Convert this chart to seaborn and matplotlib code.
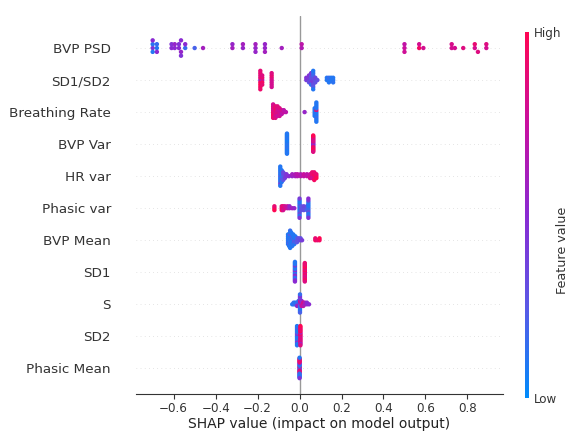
import numpy as np
import pandas as pd
import matplotlib
import matplotlib.pyplot as plt
import seaborn as sns
from matplotlib.colors import LinearSegmentedColormap, Normalize

# ==========================================
# data: shap values + feature value (0 = low, 1 = high) per feature
# ==========================================
features = ['BVP PSD', 'SD1/SD2', 'Breathing Rate', 'BVP Var', 'HR var',
            'Phasic var', 'BVP Mean', 'SD1', 'S', 'SD2', 'Phasic Mean']

bvp_psd_shap = [-0.70, -0.70, -0.70, -0.70, -0.68, -0.68, -0.68, -0.61, -0.61, -0.595, -0.595,
                -0.575, -0.575, -0.565, -0.565, -0.565, -0.545, -0.545, -0.50, -0.46, -0.32, -0.32,
                -0.27, -0.27, -0.21, -0.21, -0.21, -0.165, -0.165, -0.165, -0.085, 0.01, 0.01,
                0.50, 0.50, 0.50, 0.57, 0.57, 0.59, 0.725, 0.725, 0.74, 0.78, 0.835, 0.835, 0.85,
                0.89, 0.89]
bvp_psd_val = [0.45, 0.12, 0.1, 0.5, 0.1, 0.15, 0.5, 0.5, 0.45, 0.5, 0.55,
               0.5, 0.45, 0.55, 0.5, 0.45, 0.15, 0.5, 0.2, 0.6, 0.6, 0.55,
               0.55, 0.6, 0.55, 0.6, 0.55, 0.55, 0.55, 0.6, 0.6, 0.65, 0.7,
               0.75, 0.72, 0.78, 0.95, 0.8, 0.8, 0.8, 0.82, 0.8, 0.85, 0.8, 0.9, 0.85,
               0.8, 0.85]

sd1sd2_shap = [-0.187, -0.187, -0.187, -0.187, -0.187, -0.187, -0.187, -0.187, -0.187,
               -0.178, -0.178, -0.178, -0.178, -0.178,
               -0.133, -0.133, -0.133, -0.133, -0.133, -0.133, -0.133,
               0.032, 0.032, 0.045, 0.045, 0.045, 0.045,
               0.055, 0.055, 0.055, 0.055, 0.055, 0.055,
               0.065, 0.065, 0.065, 0.065, 0.065, 0.065, 0.065, 0.065, 0.065,
               0.075, 0.075, 0.075, 0.085,
               0.13, 0.13, 0.14, 0.14, 0.14, 0.15, 0.15, 0.16, 0.16, 0.16]
sd1sd2_val = [0.5, 0.9, 0.95, 0.85, 1.0, 0.9, 0.95, 0.88, 0.92,
              0.6, 0.9, 0.95, 0.85, 0.9,
              0.8, 0.85, 0.8, 0.9, 0.8, 0.85, 0.8,
              0.4, 0.45, 0.35, 0.4, 0.3, 0.45,
              0.35, 0.3, 0.4, 0.3, 0.15, 0.4,
              0.35, 0.3, 0.4, 0.2, 0.3, 0.15, 0.25, 0.1, 0.1,
              0.3, 0.35, 0.3, 0.3,
              0.1, 0.1, 0.1, 0.15, 0.1, 0.1, 0.1, 0.1, 0.1, 0.12]

breath_shap = [-0.126, -0.126, -0.126, -0.126, -0.126, -0.126, -0.126, -0.126,
               -0.115, -0.115, -0.115, -0.115, -0.115, -0.115, -0.115,
               -0.105, -0.105, -0.105, -0.105, -0.105, -0.105,
               -0.095, -0.095, -0.095, -0.095, -0.095,
               -0.085, -0.085, -0.085, -0.075, -0.075, -0.065, 0.024,
               0.072, 0.072, 0.072, 0.072, 0.072,
               0.08, 0.08, 0.08, 0.08, 0.08, 0.08, 0.08, 0.08, 0.08, 0.08, 0.08]
breath_val = [0.95, 0.85, 0.9, 0.8, 0.95, 0.85, 0.9, 0.8,
              0.8, 0.9, 0.85, 0.95, 0.8, 0.9, 0.85,
              0.75, 0.8, 0.85, 0.8, 0.75, 0.85,
              0.8, 0.75, 0.8, 0.85, 0.8,
              0.75, 0.8, 0.7, 0.75, 0.7, 0.7, 0.55,
              0.1, 0.1, 0.12, 0.1, 0.1,
              0.1, 0.9, 0.1, 0.12, 0.1, 0.1, 0.15, 0.1, 0.1, 0.1, 0.1]

bvp_var_shap = [-0.06, -0.06, -0.06, -0.06, -0.06, -0.06, -0.06, -0.06, -0.06, -0.06, -0.06,
                -0.06, -0.06, -0.06, -0.06, -0.06, -0.06, -0.06, -0.06, -0.06, -0.06, -0.06,
                0.065, 0.065, 0.065, 0.065, 0.065, 0.065, 0.065, 0.065, 0.065,
                0.065, 0.065, 0.065, 0.065, 0.065, 0.065, 0.065, 0.065, 0.065]
bvp_var_val = [0.1, 0.05, 0.1, 0.15, 0.1, 0.05, 0.1, 0.1, 0.12, 0.05, 0.1,
               0.1, 0.15, 0.1, 0.05, 0.1, 0.1, 0.12, 0.1, 0.05, 0.1, 0.1,
               0.55, 0.6, 0.5, 0.6, 0.55, 0.85, 0.9, 0.8, 0.95,
               0.85, 0.9, 0.8, 1.0, 0.85, 0.95, 0.9, 0.85, 1.0]

hr_var_shap = [-0.092, -0.092, -0.092, -0.092, -0.092, -0.092, -0.092, -0.092, -0.092, -0.092, -0.092,
               -0.085, -0.085, -0.085, -0.085, -0.085, -0.085, -0.085,
               -0.078, -0.078, -0.078, -0.078, -0.078, -0.07, -0.07, -0.07,
               -0.062, -0.062, -0.05, -0.035, -0.035, -0.02, -0.02, -0.01, -0.01,
               0.005, 0.005, 0.02, 0.02, 0.035, 0.035, 0.05, 0.05, 0.05,
               0.06, 0.06, 0.06, 0.06, 0.07, 0.07, 0.07, 0.07, 0.07, 0.08, 0.08, 0.08]
hr_var_val = [0.3, 0.1, 0.1, 0.15, 0.1, 0.1, 0.12, 0.1, 0.4, 0.1, 0.1,
              0.2, 0.1, 0.15, 0.1, 0.3, 0.1, 0.1,
              0.2, 0.3, 0.2, 0.35, 0.25, 0.3, 0.35, 0.4,
              0.45, 0.45, 0.5, 0.55, 0.6, 0.6, 0.65, 0.65, 0.7,
              0.7, 0.65, 0.7, 0.75, 0.75, 0.7, 0.8, 0.75, 0.8,
              0.85, 0.9, 0.8, 0.9, 0.9, 0.95, 0.85, 0.9, 0.95, 0.95, 0.9, 1.0]

phasic_var_shap = [-0.12, -0.12, -0.12, -0.085, -0.085, -0.085, -0.078, -0.078, -0.078,
                   -0.07, -0.07, -0.058, -0.058, -0.048, -0.048, -0.035, -0.025,
                   0.0, 0.0, 0.0, 0.0, 0.0, 0.0, 0.0, 0.0, 0.0, 0.0, 0.0,
                   0.008, 0.008, 0.008, 0.02, 0.02, 0.02, 0.035, 0.035, 0.035,
                   0.042, 0.042, 0.042, 0.042, 0.042, 0.042, 0.042, 0.042, 0.042, 0.042, 0.042]
phasic_var_val = [0.95, 0.9, 1.0, 0.9, 0.85, 0.95, 0.85, 0.9, 0.8,
                  0.85, 0.8, 0.7, 0.75, 0.6, 0.55, 0.6, 0.55,
                  0.3, 0.1, 0.1, 0.2, 0.15, 0.1, 0.35, 0.1, 0.1, 0.4, 0.45,
                  0.2, 0.25, 0.3, 0.3, 0.35, 0.3, 0.25, 0.3, 0.2,
                  0.2, 0.1, 0.15, 0.1, 0.3, 0.1, 0.1, 0.4, 0.15, 0.5, 0.45]

bvp_mean_shap = [-0.055, -0.055, -0.055, -0.055, -0.055, -0.055,
                 -0.05, -0.05, -0.05, -0.05, -0.05, -0.05, -0.05,
                 -0.045, -0.045, -0.045, -0.045, -0.045, -0.045, -0.045, -0.045, -0.045, -0.045,
                 -0.04, -0.04, -0.04, -0.04, -0.04, -0.04, -0.04, -0.04,
                 -0.035, -0.035, -0.035, -0.035, -0.035, -0.035, -0.035,
                 -0.03, -0.03, -0.03, -0.03, -0.03, -0.03,
                 -0.025, -0.025, -0.025, -0.025, -0.025, -0.02, -0.02, -0.02, -0.02,
                 -0.012, -0.012, -0.012, -0.005, -0.005, 0.005, 0.005, 0.012,
                 0.075, 0.075, 0.085, 0.095, 0.095]
bvp_mean_val = [0.1, 0.1, 0.15, 0.1, 0.1, 0.1,
                0.1, 0.15, 0.1, 0.1, 0.25, 0.1, 0.1,
                0.1, 0.1, 0.15, 0.1, 0.1, 0.25, 0.1, 0.1, 0.1, 0.15,
                0.1, 0.15, 0.1, 0.1, 0.1, 0.2, 0.1, 0.1,
                0.15, 0.1, 0.1, 0.25, 0.1, 0.1, 0.1,
                0.1, 0.2, 0.1, 0.1, 0.15, 0.1,
                0.2, 0.1, 0.3, 0.1, 0.1, 0.25, 0.1, 0.2, 0.1,
                0.3, 0.2, 0.25, 0.3, 0.3, 0.35, 0.3, 0.4,
                0.95, 0.9, 0.9, 0.95, 1.0]

sd1_shap = [-0.022, -0.022, -0.022, -0.022, -0.022, -0.022, -0.022, -0.022, -0.022,
            -0.022, -0.022, -0.022, -0.022, -0.022, -0.022, -0.022, -0.022, -0.022,
            0.025, 0.025, 0.025, 0.025, 0.025, 0.025, 0.025, 0.025, 0.025,
            0.025, 0.025, 0.025, 0.025, 0.025, 0.025, 0.025, 0.025]
sd1_val = [0.1, 0.45, 0.1, 0.5, 0.15, 0.1, 0.5, 0.1, 0.45,
           0.1, 0.1, 0.5, 0.15, 0.1, 0.45, 0.1, 0.5, 0.1,
           0.9, 0.95, 0.8, 1.0, 0.9, 0.85, 0.95, 0.9, 0.8,
           1.0, 0.9, 0.95, 0.85, 0.9, 1.0, 0.9, 0.85]

s_shap = [-0.035, -0.028, -0.028, -0.02, -0.02, -0.012, -0.012, -0.012,
          -0.005, -0.005, -0.005, -0.005,
          0.002, 0.002, 0.002, 0.002, 0.002, 0.002, 0.002, 0.002, 0.002, 0.002, 0.002, 0.002,
          0.01, 0.01, 0.01, 0.01, 0.018, 0.018, 0.018, 0.025, 0.025, 0.035, 0.035, 0.045]
s_val = [0.1, 0.1, 0.15, 0.2, 0.1, 0.3, 0.15, 0.5,
         0.5, 0.2, 0.6, 0.1,
         0.7, 0.5, 0.2, 0.8, 0.1, 0.6, 0.15, 0.3, 0.1, 0.5, 0.2, 0.15,
         0.8, 0.6, 0.75, 0.5, 0.8, 0.85, 0.7, 0.6, 0.65, 0.55, 0.5, 0.5]

sd2_shap = [-0.012, -0.012, -0.012, -0.012, -0.012, -0.012, -0.012, -0.012,
            -0.012, -0.012, -0.012, -0.012, -0.012, -0.012, -0.012, -0.012,
            0.004, 0.004, 0.004, 0.004, 0.004, 0.004, 0.004, 0.004,
            0.004, 0.004, 0.004, 0.004, 0.004, 0.004, 0.004, 0.004]
sd2_val = [0.1, 0.15, 0.1, 0.45, 0.1, 0.2, 0.1, 0.1,
           0.15, 0.1, 0.45, 0.1, 0.1, 0.2, 0.1, 0.1,
           0.85, 0.9, 0.8, 0.95, 0.85, 0.6, 0.9, 1.0,
           0.8, 0.9, 0.85, 0.95, 0.6, 0.9, 0.85, 1.0]

phasic_mean_shap = [0.0, 0.0, 0.0, 0.0, 0.0, 0.0, 0.0, 0.0, 0.0, 0.0, 0.0, 0.0,
                    0.0, 0.0, 0.0, 0.0, 0.0, 0.0, 0.0, 0.0, 0.0, 0.0, 0.0, 0.0]
phasic_mean_val = [0.1, 0.9, 0.2, 0.85, 0.5, 0.1, 0.95, 0.15, 0.8, 0.1, 0.9, 0.5,
                   0.1, 0.85, 0.2, 0.9, 0.1, 0.95, 0.15, 0.8, 0.1, 0.9, 0.45, 0.1]

shap_lists = [bvp_psd_shap, sd1sd2_shap, breath_shap, bvp_var_shap, hr_var_shap,
              phasic_var_shap, bvp_mean_shap, sd1_shap, s_shap, sd2_shap, phasic_mean_shap]
val_lists = [bvp_psd_val, sd1sd2_val, breath_val, bvp_var_val, hr_var_val,
             phasic_var_val, bvp_mean_val, sd1_val, s_val, sd2_val, phasic_mean_val]


# beeswarm offsets the way shap does it (binning + alternating layers)
def swarm_offsets(vals, row_height=0.4, nbins=100):
    vals = np.asarray(vals, dtype=float)
    span = vals.max() - vals.min()
    quant = np.round(nbins * (vals - vals.min()) / (span + 1e-8))
    inds = np.argsort(quant, kind='stable')
    ys = np.zeros(len(vals))
    layer, last_bin = 0, -1
    for i in inds:
        if quant[i] != last_bin:
            layer = 0
        ys[i] = np.ceil(layer / 2) * ((layer % 2) * 2 - 1)
        layer += 1
        last_bin = quant[i]
    ys *= 0.9 * (row_height / np.max(ys + 1))
    return ys


n = len(features)
rows = []
for i, (name, sv, fv) in enumerate(zip(features, shap_lists, val_lists)):
    pos = n - 1 - i
    off = swarm_offsets(sv)
    rows.append(pd.DataFrame({'feature': name, 'shap': sv, 'fval': fv, 'y': pos + off}))
df = pd.concat(rows[::-1], ignore_index=True)

# shap-like red/blue colormap
cmap = LinearSegmentedColormap.from_list(
    'red_blue', ['#008bfb', '#5a58e6', '#8a2ad2', '#c8109f', '#ff0653'])

# ==========================================
# plot
# ==========================================
sns.set_style('white')
plt.rcParams['font.family'] = ['DejaVu Sans']

fig = plt.figure(figsize=(5.7, 4.33), dpi=100)
ax = fig.add_axes([136 / 570, 1 - 394 / 433, 367 / 570, 378 / 433])

ax.axvline(0, color='#999999', lw=1, zorder=-1)
for pos in range(n):
    ax.axhline(pos, color='#cccccc', lw=0.5, dashes=(1, 5), zorder=-1)

sns.scatterplot(data=df, x='shap', y='y', hue='fval', palette=cmap, hue_norm=(0, 1),
                s=10, linewidth=0, alpha=1, legend=False, ax=ax, rasterized=True)

ax.set_ylim(-0.8, n)
ax.set_yticks(range(n))
ax.set_yticklabels(features[::-1], fontsize=9.7, color='#333333')
ax.tick_params(axis='y', length=0, pad=18)
ax.tick_params(axis='x', bottom=True, length=3.5, width=0.8, labelsize=8.6, pad=2.5,
               color='#333333', labelcolor='#333333')
ax.set_xlabel('SHAP value (impact on model output)', fontsize=10, color='#222222', labelpad=1.5)
ax.set_ylabel('')
for side in ['top', 'right', 'left']:
    ax.spines[side].set_visible(False)
ax.spines['bottom'].set_color('#333333')
ax.spines['bottom'].set_linewidth(0.8)

# colorbar
cax = fig.add_axes([525 / 570, 1 - 398 / 433, 3.5 / 570, 366 / 433])
sm = matplotlib.cm.ScalarMappable(norm=Normalize(0, 1), cmap=cmap)
cb = fig.colorbar(sm, cax=cax, ticks=[0, 1])
cb.set_ticklabels(['Low', 'High'])
cb.outline.set_visible(False)
cax.tick_params(length=0, labelsize=8.6, labelcolor='#333333', pad=4)
fig.text(563 / 570, 1 - 250 / 433, 'Feature value', rotation=90, ha='center', va='center',
         fontsize=9.2, color='#333333')

fig.savefig('out.png', dpi=100)
